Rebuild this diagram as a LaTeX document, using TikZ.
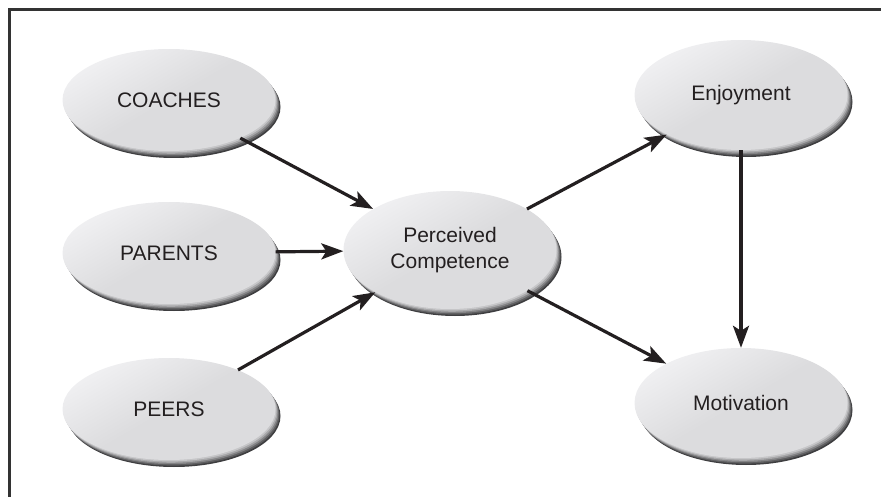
\documentclass[tikz,border=0pt]{standalone}
\usepackage{fontspec}
\setmainfont{Liberation Sans}
\usetikzlibrary{shapes.geometric,arrows.meta}
\definecolor{ellhi}{HTML}{F0F0F2}
\definecolor{ellbase}{HTML}{DCDCDE}
\definecolor{rimA}{HTML}{3E3E40}
\definecolor{rimB}{HTML}{5E5E60}
\definecolor{rimC}{HTML}{838385}
\definecolor{rimD}{HTML}{A8A8AA}
\definecolor{rimE}{HTML}{C6C6C8}
\definecolor{inkgray}{HTML}{231F20}

\begin{document}
\begin{tikzpicture}[x=1pt,y=-1pt,
    factor/.style={ellipse,minimum width=213pt,minimum height=102pt,inner sep=0pt,
        top color=ellhi,bottom color=ellbase,middle color=ellbase,shading angle=30,
        preaction={fill=rimA,transform canvas={shift={(5pt,-7pt)}}},
        preaction={fill=rimB,transform canvas={shift={(4pt,-5.6pt)}}},
        preaction={fill=rimC,transform canvas={shift={(3pt,-4.2pt)}}},
        preaction={fill=rimD,transform canvas={shift={(2pt,-2.8pt)}}},
        preaction={fill=rimE,transform canvas={shift={(1pt,-1.4pt)}}},
        text=inkgray,align=center,font=\fontsize{21}{26}\selectfont},
    link/.style={-{Stealth[length=22pt,width=16pt,inset=5pt]},line width=3.2pt,draw=inkgray}]
    \useasboundingbox (0,0) rectangle (881,497);
    \draw [line width=3pt,draw=black!80] (881,9.5) -- (9.5,9.5) -- (9.5,497);

    \node[factor] (coaches) at (169,100) {COACHES};
    \node[factor] (parents) at (169,253) {PARENTS};
    \node[factor] (peers) at (169,409) {PEERS};
    \node[factor,minimum height=118pt] (comp) at (450,250) {Perceived\\Competence};
    \node[factor,minimum height=110pt] (enjoy) at (741,95) {Enjoyment};
    \node[factor,minimum height=110pt] (motiv) at (741,403) {Motivation};

    \draw [link] (coaches) -- (comp);
    \draw [link] (parents) -- (comp);
    \draw [link] (peers) -- (comp);
    \draw [link] (comp) -- (enjoy);
    \draw [link] (comp) -- (motiv);
    \draw [link] (enjoy) -- (motiv);
\end{tikzpicture}
\end{document}
